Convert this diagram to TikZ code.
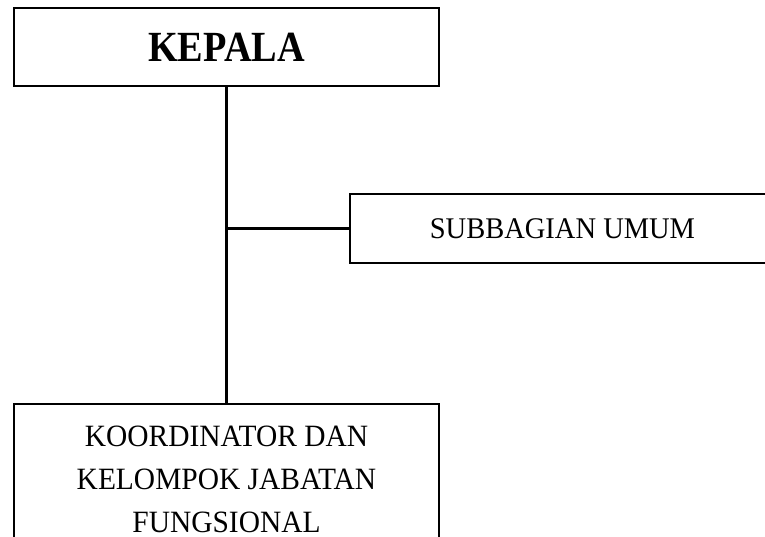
\documentclass[tikz,border=0pt]{standalone}
\usepackage{fontspec}
\setmainfont{Liberation Serif}
\newcommand{\sq}[1]{\scalebox{0.95}[1]{#1}}
\begin{document}
\begin{tikzpicture}[x=1pt,y=-1pt,
  box/.style={draw=black,line width=2.5pt,fill=white,inner sep=0pt,align=center,minimum width=425pt},
  conn/.style={draw=black,line width=2.5pt}]
\useasboundingbox (0,0) rectangle (765,537);
\clip (0,0) rectangle (765,537);
\node[box,minimum height=78pt,font=\fontsize{43}{48}\selectfont\bfseries] (kepala) at (226.5,47) {\scalebox{0.89}[1]{KEPALA}};
\node[box,minimum height=69pt,font=\fontsize{30}{35}\selectfont] (sub) at (562.5,228.5) {\sq{SUBBAGIAN UMUM}};
\node[box,minimum height=150pt,font=\fontsize{31}{43}\selectfont] (koor) at (226.5,479) {\sq{KOORDINATOR DAN}\\\sq{KELOMPOK JABATAN}\\\sq{FUNGSIONAL}};
\coordinate (j) at (kepala.south |- sub.west);
\draw[conn] (kepala.south) -- (koor.north);
\draw[conn] (j) -- (sub.west);
\end{tikzpicture}
\end{document}
